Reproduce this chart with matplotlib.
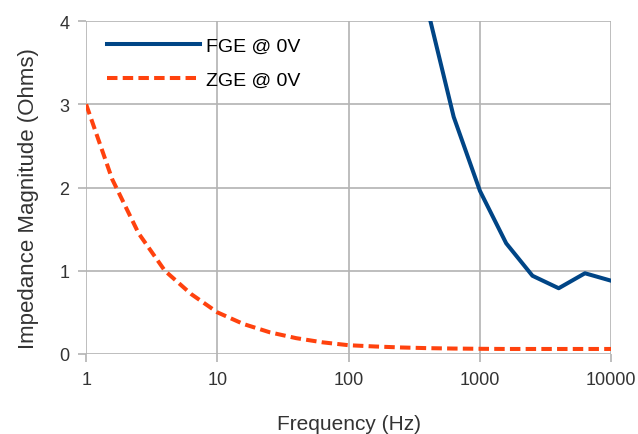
import matplotlib
matplotlib.use("Agg")
import matplotlib.pyplot as plt
from matplotlib.ticker import FixedLocator, FixedFormatter, NullLocator

plt.rcParams['font.family'] = ['Liberation Sans', 'DejaVu Sans']

# frequencies in Hz
freq_zge = [1, 1.58, 2.51, 3.98, 6.31, 10, 15.8, 25.1, 39.8, 63.1, 100,
            158, 251, 398, 631, 1000, 1585, 2512, 3981, 6310, 10000]
zge = [3.0, 2.1, 1.45, 1.0, 0.72, 0.50, 0.36, 0.26, 0.19, 0.14, 0.105,
       0.09, 0.078, 0.07, 0.065, 0.062, 0.06, 0.06, 0.06, 0.06, 0.06]

freq_fge = [398, 631, 1000, 1585, 2512, 3981, 6310, 10000]
fge = [4.15, 2.85, 1.96, 1.33, 0.94, 0.79, 0.97, 0.88]

xticks = [1, 10, 100, 1000, 10000]
xtick_labels = ['1', '10', '100', '1000', '10000']
yticks = [0, 1, 2, 3, 4]

fig = plt.figure(figsize=(6.38, 4.35), dpi=100)
ax = fig.add_axes([0.135, 0.184, 0.823, 0.765])

ax.plot(freq_fge, fge, color='#004586', lw=2.9, label='FGE @ 0V',
        solid_joinstyle='round')
ax.plot(freq_zge, zge, color='#ff420e', lw=2.9, dashes=(2.6, 1.3),
        label='ZGE @ 0V')

ax.set_xscale('log')
ax.set_xlim(1, 10000)
ax.set_ylim(0, 4)
ax.xaxis.set_major_locator(FixedLocator(xticks))
ax.xaxis.set_major_formatter(FixedFormatter(xtick_labels))
ax.xaxis.set_minor_locator(NullLocator())
ax.set_yticks(yticks)

ax.grid(True, color='#b3b3b3', lw=1.2)
ax.set_axisbelow(True)
for s in ax.spines.values():
    s.set_visible(False)
ax.tick_params(axis='both', which='major', length=6, width=1.2,
               color='#b3b3b3', labelsize=13, labelcolor='#333333', pad=6)

ax.set_xlabel('Frequency (Hz)', fontsize=15, color='#333333', labelpad=19)
ax.set_ylabel('Impedance Magnitude (Ohms)', fontsize=16, color='#333333')
ax.yaxis.set_label_coords(-0.089, 0.47)

ax.legend(loc='upper left', frameon=False, fontsize=14, handlelength=4.8,
          handletextpad=0.3, labelspacing=0.85, borderaxespad=0.0,
          bbox_to_anchor=(0.025, 0.975))

fig.savefig('out.png', dpi=100)
